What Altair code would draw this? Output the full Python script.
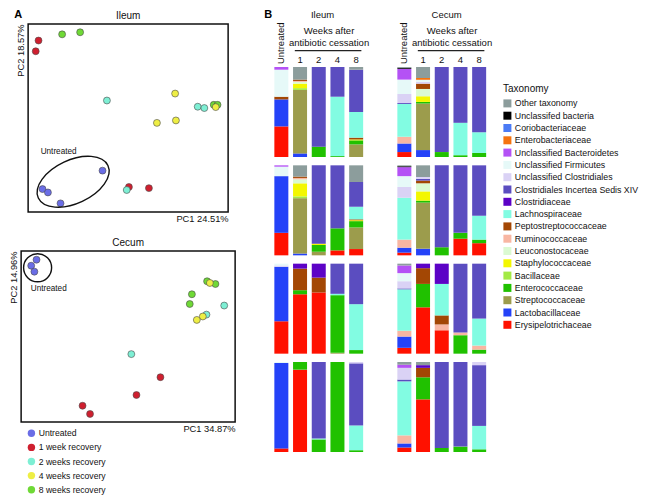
import altair as alt
import pandas as pd

# ---------------- Panel A : PCoA ----------------
groups = ["Untreated", "1 week recovery", "2 weeks recovery", "4 weeks recovery", "8 weeks recovery"]
group_colors = ["#6a6de6", "#cf1f2f", "#7eefd4", "#eeee44", "#6fd936"]

# Ileum (relative PCoA units, 0-100 across the frame)
ileum_group = [0, 0, 0, 0, 1, 1, 1, 1, 2, 2, 2, 2, 4, 4, 4, 4, 3, 3, 3, 3]
ileum_pc1 = [37.2, 7.2, 9.9, 16.2, 5.2, 3.8, 50.4, 60.4, 39.4, 84.8, 88.1, 49.3,
             17.0, 26.0, 92.8, 94.7, 73.5, 64.4, 73.9, 93.8]
ileum_pc2 = [22.0, 12.2, 10.4, 4.6, 91.2, 85.5, 13.3, 12.7, 59.3, 56.0, 55.3, 11.7,
             94.5, 95.6, 57.0, 57.0, 63.0, 47.4, 48.7, 55.8]

# Cecum
cecum_group = [0, 0, 0, 1, 1, 1, 1, 4, 4, 4, 4, 2, 2, 2, 3, 3, 3]
cecum_pc1 = [7.2, 4.7, 6.2, 65.1, 53.9, 28.7, 32.2, 86.9, 90.8, 79.8, 78.8,
             94.9, 86.6, 51.5, 88.2, 84.9, 82.1]
cecum_pc2 = [94.9, 91.4, 87.9, 26.2, 15.8, 9.5, 4.7, 82.3, 80.7, 74.7, 69.0,
             68.1, 62.8, 39.7, 81.3, 61.7, 59.7]

# ---------------- Panel B : taxonomy ----------------
taxa = ["Other taxonomy", "Unclassifed bacteria", "Coriobacteriaceae", "Enterobacteriaceae",
        "Unclassified Bacteroidetes", "Unclassified Firmicutes", "Unclassified Clostridiales",
        "Clostridiales Incertea Sedis XIV", "Clostridiaceae", "Lachnospiraceae",
        "Peptostreptococcaceae", "Ruminococcaceae", "Leuconostocaceae", "Staphylococcaceae",
        "Bacillaceae", "Enterococcaceae", "Streptococcaceae", "Lactobacillaceae",
        "Erysipelotrichaceae"]
taxa_colors = ["#8c9d9c", "#000000", "#4b7bf5", "#f5730f", "#b452f5", "#e6f9f8", "#dad2f5",
               "#5b4dc0", "#5c02c6", "#82fce2", "#a34704", "#f8b6a2", "#dbfad2", "#f3f700",
               "#a3ea45", "#20c100", "#9c9c4c", "#2442f8", "#ff1100"]
codes = ["OT", "UB", "CO", "EB", "BA", "FI", "UC", "CX", "CL", "LA",
         "PE", "RU", "LE", "ST", "BC", "EN", "SR", "LB", "ER"]

timepoints = ["Untreated", "1", "2", "4", "8"]

# percentages per bar (Untreated, week 1, 2, 4, 8), one list per mouse row
ileum_row1 = [{"BA": 3, "FI": 30, "PE": 3, "LB": 30, "ER": 34},
              {"OT": 14, "RU": 1, "PE": 1.5, "LE": 2, "ST": 5, "BC": 2, "SR": 70.5, "LB": 4},
              {"CX": 88.5, "EN": 11.5},
              {"CX": 33, "LA": 66, "EN": 1},
              {"OT": 3, "CX": 47, "LA": 28.5, "PE": 2, "ST": 1, "EN": 4.5, "SR": 14}]
ileum_row2 = [{"BA": 1.5, "FI": 10.5, "LB": 63, "ER": 25},
              {"OT": 12.5, "PE": 1.5, "RU": 1.5, "LE": 4.5, "ST": 14.5, "BC": 2, "SR": 61.5, "LB": 2},
              {"CX": 87, "ST": 1.5, "EN": 7.5, "SR": 4},
              {"CX": 70, "EN": 24.5, "ER": 5.5},
              {"OT": 18.5, "CX": 27.5, "LA": 14, "PE": 1, "ST": 1, "EN": 7, "SR": 24, "ER": 7}]
ileum_row3 = [{"FI": 2, "UC": 1.5, "LB": 60.5, "ER": 36},
              {"CL": 5.5, "PE": 24, "EN": 4.5, "ER": 66},
              {"CL": 15.5, "PE": 16.5, "ER": 68},
              {"CX": 33.5, "LA": 1.5, "EN": 64, "SR": 1},
              {"CX": 45, "LA": 51, "EN": 4}]
ileum_row4 = [{"FI": 1, "LB": 95, "ER": 4},
              {"EN": 8.5, "ER": 91.5},
              {"CX": 85, "LA": 1, "EN": 14},
              {"EN": 100},
              {"UC": 1.5, "CX": 69, "LA": 27.5, "EN": 2}]

cecum_row1 = [{"OT": 1, "UB": 1, "BA": 12, "FI": 16, "UC": 10, "CX": 1, "LA": 36.5, "RU": 7.5, "LB": 9.5, "ER": 5.5},
              {"OT": 12.2, "EB": 2, "FI": 2.3, "UC": 2, "PE": 5.9, "LE": 8.1, "ST": 6.3, "EN": 1.8, "SR": 51.7, "LB": 7.7},
              {"CX": 94.5, "EN": 5.5},
              {"CX": 62, "LA": 36, "EN": 2},
              {"CX": 72.5, "LA": 23, "EN": 4.5}]
cecum_row2 = [{"OT": 1, "UB": 1, "BA": 10, "FI": 12, "UC": 12, "LA": 46.5, "RU": 9, "LB": 5.5, "ER": 3},
              {"OT": 13, "UC": 2, "CX": 2, "PE": 3, "LE": 9, "ST": 10.3, "EN": 2.2, "SR": 51.3, "LB": 7.4},
              {"CX": 91, "EN": 9},
              {"CX": 75, "EN": 6.5, "ER": 18.5},
              {"CX": 56, "LA": 26.5, "EN": 4, "ER": 13.5}]
cecum_row3 = [{"OT": 2, "BA": 8.5, "FI": 9, "UC": 8, "CX": 1, "LA": 46, "RU": 6.5, "LB": 12.5, "ER": 6.5},
              {"CL": 5, "PE": 17.5, "EN": 26, "ER": 51.5},
              {"CL": 22.5, "LA": 35, "PE": 10, "RU": 6.5, "ER": 26},
              {"CX": 76.5, "RU": 3, "EN": 20.5},
              {"CX": 61, "LA": 30, "RU": 4.5, "EN": 4.5}]
cecum_row4 = [{"OT": 3, "BA": 3.5, "UC": 13, "CX": 2, "LA": 60, "RU": 9, "LB": 4.5, "ER": 5},
              {"OT": 3.5, "CL": 3, "PE": 10.5, "EN": 24.5, "ER": 58.5},
              {"CX": 95.5, "EN": 4.5},
              {"CX": 94, "EN": 6},
              {"UC": 3.5, "CX": 67.5, "LA": 26, "EN": 3}]

FONT = "Liberation Sans"
ELLIPSE = "M -1 0 A 1 0.565 0 1 1 1 0 A 1 0.565 0 1 1 -1 0 Z"
ROW_STEP = 1.0926
B_TOP = 4.7556


def pcoa(pc1, pc2, grp, w, h, xt, yt, title, letter, legend, circle):
    df = pd.DataFrame({"PC1": pc1, "PC2": pc2, "Group": [groups[g] for g in grp]})
    xs = alt.Scale(domain=[0, 100], nice=False, zero=False)
    ys = alt.Scale(domain=[0, 100], nice=False, zero=False)
    xax = alt.Axis(title=xt, titleAnchor="end", labels=False, ticks=False, domain=False,
                   grid=False, titleFontSize=9.3, titleFontWeight="normal", titlePadding=2,
                   titleColor="#111")
    yax = alt.Axis(title=yt, titleAnchor="end", labels=False, ticks=False, domain=False,
                   grid=False, titleFontSize=9.3, titleFontWeight="normal", titlePadding=3,
                   titleColor="#111")
    pts = alt.Chart(df).mark_circle(size=48, opacity=1, stroke="#4a4a4a", strokeWidth=0.6).encode(
        x=alt.X("PC1:Q", scale=xs, axis=xax),
        y=alt.Y("PC2:Q", scale=ys, axis=yax),
        color=alt.Color("Group:N", scale=alt.Scale(domain=groups, range=group_colors), legend=legend),
    )
    shape_df = pd.DataFrame({"PC1": [circle[0]], "PC2": [circle[1]]})
    ring = alt.Chart(shape_df).mark_point(
        shape=circle[2], size=circle[3], angle=circle[4], filled=False,
        stroke="#111", strokeWidth=1.4, opacity=1).encode(
        x=alt.X("PC1:Q", scale=xs), y=alt.Y("PC2:Q", scale=ys))
    lab_df = pd.DataFrame({"PC1": [circle[5]], "PC2": [circle[6]], "label": ["Untreated"]})
    lab = alt.Chart(lab_df).mark_text(fontSize=8.2, color="#111").encode(
        x=alt.X("PC1:Q", scale=xs), y=alt.Y("PC2:Q", scale=ys), text="label:N")
    ttl = alt.Chart(pd.DataFrame({"t": [title]})).mark_text(
        fontSize=10, color="#111", align="center", baseline="alphabetic").encode(
        x=alt.value(w / 2), y=alt.value(-5), text="t:N")
    layers = [pts, ring, lab, ttl]
    if letter:
        let = alt.Chart(pd.DataFrame({"t": [letter]})).mark_text(
            fontSize=11, fontWeight="bold", color="#000", align="left", baseline="alphabetic").encode(
            x=alt.value(-14), y=alt.value(-6), text="t:N")
        layers.append(let)
    return alt.layer(*layers).properties(
        width=w, height=h, view=alt.ViewBackground(stroke="#111", strokeWidth=1.5))


def bar_panel(rows, tissue, letter, legend, title_x):
    recs = []
    for r, row in enumerate(rows):
        base = (3 - r) * ROW_STEP
        for p, bar in enumerate(row):
            total = sum(bar.values())
            items = sorted(bar.items(), key=lambda kv: -codes.index(kv[0]))
            cum = 0.0
            for code, val in items:
                frac = val / total
                recs.append({"pos": p, "Taxon": taxa[codes.index(code)],
                             "y0": base + cum, "y1": base + cum + frac,
                             "Mouse": r + 1, "Time": timepoints[p]})
                cum += frac
    df = pd.DataFrame(recs)
    xs = alt.Scale(domain=[-0.5, 4.5], nice=False, zero=False)
    ys = alt.Scale(domain=[0, B_TOP], nice=False, zero=False)
    bars = alt.Chart(df).mark_bar(size=14).encode(
        x=alt.X("pos:Q", scale=xs, axis=None),
        y=alt.Y("y0:Q", scale=ys, axis=None),
        y2="y1:Q",
        color=alt.Color("Taxon:N", scale=alt.Scale(domain=taxa, range=taxa_colors), legend=legend),
    )
    nums = pd.DataFrame({"pos": [1, 2, 3, 4], "y": [4.322] * 4, "label": timepoints[1:]})
    num_t = alt.Chart(nums).mark_text(fontSize=9.5, color="#111", baseline="alphabetic").encode(
        x=alt.X("pos:Q", scale=xs, axis=None), y=alt.Y("y:Q", scale=ys, axis=None), text="label:N")
    un = pd.DataFrame({"pos": [0], "y": [4.31], "label": [timepoints[0]]})
    un_t = alt.Chart(un).mark_text(fontSize=9.5, color="#111", angle=270, align="left",
                                  baseline="middle").encode(
        x=alt.X("pos:Q", scale=xs, axis=None), y=alt.Y("y:Q", scale=ys, axis=None), text="label:N")
    hd = pd.DataFrame({"pos": [2.55, 2.55, title_x], "y": [4.644, 4.506, 4.822],
                       "label": ["Weeks after", "antibiotic cessation", tissue]})
    hd_t = alt.Chart(hd).mark_text(fontSize=9.5, color="#111", baseline="alphabetic").encode(
        x=alt.X("pos:Q", scale=xs, axis=None), y=alt.Y("y:Q", scale=ys, axis=None), text="label:N")
    rl = pd.DataFrame({"a": [0.72], "b": [4.28], "y": [4.459]})
    rule = alt.Chart(rl).mark_rule(strokeWidth=1.2, color="#222").encode(
        x=alt.X("a:Q", scale=xs, axis=None), x2="b:Q", y=alt.Y("y:Q", scale=ys, axis=None))
    layers = [bars, num_t, un_t, hd_t, rule]
    if letter:
        lt = pd.DataFrame({"pos": [-0.92], "y": [4.822], "label": [letter]})
        layers.append(alt.Chart(lt).mark_text(fontSize=11, fontWeight="bold", color="#000",
                                              align="left", baseline="alphabetic").encode(
            x=alt.X("pos:Q", scale=xs, axis=None), y=alt.Y("y:Q", scale=ys, axis=None),
            text="label:N"))
    return alt.layer(*layers).properties(width=103.5, height=B_TOP * 90,
                                         view=alt.ViewBackground(stroke=None))


ileumA = pcoa(ileum_pc1, ileum_pc2, ileum_group, 200, 188, "PC1 24.51%", "PC2 18.57%",
              "Ileum", "A", None, (22.5, 16.1, ELLIPSE, 5900, 335, 15.25, 31.9))
scatter_legend = alt.Legend(title=None, orient="none", legendX=6, legendY=178,
                            symbolType="circle", symbolSize=55, symbolStrokeWidth=0,
                            labelFontSize=8.6, labelColor="#111", rowPadding=5.1, labelOffset=3,
                            padding=0)
cecumA = pcoa(cecum_pc1, cecum_pc2, cecum_group, 214, 171, "PC1 34.87%", "PC2 14.96%",
              "Cecum", None, scatter_legend, (7.7, 90.2, "circle", 784, 0, 12.9, 77.8))

tax_legend = alt.Legend(title="\u00a0\u00a0Taxonomy", orient="none", legendX=113, legendY=60,
                        symbolType="square", symbolSize=64, symbolStrokeWidth=0,
                        labelFontSize=8.8, labelColor="#111", titleFontSize=10,
                        titleFontWeight="normal", titleColor="#111", rowPadding=2.3,
                        labelOffset=3, titlePadding=5, padding=0, labelLimit=260)

ileumB = bar_panel([ileum_row1, ileum_row2, ileum_row3, ileum_row4], "Ileum", "B", None, 2.2)
cecumB = bar_panel([cecum_row1, cecum_row2, cecum_row3, cecum_row4], "Cecum", None, tax_legend, 2.26)

left = alt.vconcat(ileumA, cecumA, spacing=12, center=True).resolve_scale(color="independent")
right = alt.hconcat(ileumB, cecumB, spacing=19).resolve_scale(color="independent")

chart = alt.hconcat(left, right, spacing=28).resolve_scale(color="independent").properties(
    padding=0
).configure(font=FONT).configure_view(stroke=None)

chart.save("out.html", embed_options={"renderer": "svg", "actions": False})
